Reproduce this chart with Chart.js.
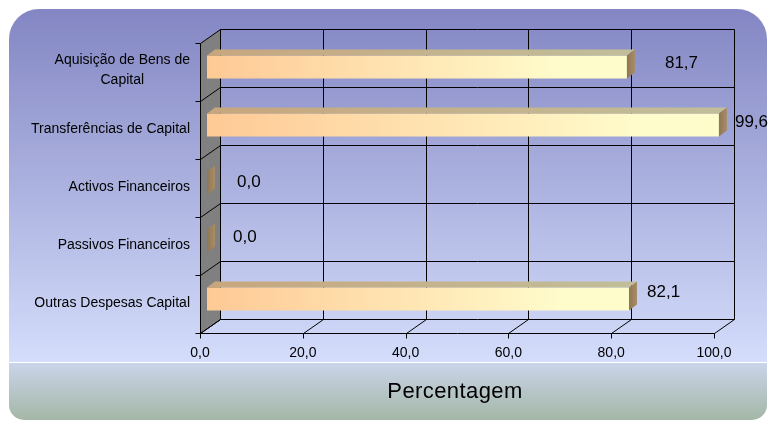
<!DOCTYPE html>
<html>
<head>
<meta charset="utf-8">
<script src="https://cdn.jsdelivr.net/npm/chart.js@4"></script>
<style>
  html, body { margin: 0; padding: 0; background: #ffffff; overflow: hidden; }
  canvas { display: block; }
</style>
</head>
<body>
<canvas id="c" width="768" height="421"></canvas>
<script>
// Execution of capital expenditure, by heading (%)
const categories = [['Aquisição de Bens de', 'Capital'], 'Transferências de Capital', 'Activos Financeiros', 'Passivos Financeiros', 'Outras Despesas Capital'];
const percentValues = [81.7, 99.6, 0.0, 0.0, 82.1];
const tickValues = [0, 20, 40, 60, 80, 100];
const axisTitle = 'Percentagem';

const FONT = '"Liberation Sans", Arial, sans-serif';
const fmt = v => v.toFixed(1).replace('.', ',');

// pseudo-3D geometry: the chart area is the plane of the bars' front faces
const FRONT = { dx: -7, dy: 5 };   // front edge of the box
const BACK = { dx: 13, dy: -9 };   // back wall
const DEPTH = { dx: 8, dy: -6 };   // bar thickness in depth

function rowBounds(chart) {
  const ys = chart.scales.y, ca = chart.chartArea, n = categories.length;
  const b = [ca.top];
  for (let i = 1; i < n; i++) b.push((ys.getPixelForValue(i - 1) + ys.getPixelForValue(i)) / 2);
  b.push(ca.bottom);
  return b;
}

const panelPlugin = {
  id: 'panel',
  beforeDraw(chart) {
    const ctx = chart.ctx;
    ctx.save();
    ctx.beginPath();
    ctx.roundRect(9, 9, 758, 411, [30, 30, 15, 15]);
    ctx.clip();
    let g = ctx.createLinearGradient(0, 9, 0, 362);
    g.addColorStop(0, '#8386c3');
    g.addColorStop(1, '#d4ddfb');
    ctx.fillStyle = g;
    ctx.fillRect(9, 9, 758, 353);
    g = ctx.createLinearGradient(0, 363, 0, 420);
    g.addColorStop(0, '#cad4ea');
    g.addColorStop(1, '#a4b7a6');
    ctx.fillStyle = g;
    ctx.fillRect(9, 363, 758, 58);
    ctx.fillStyle = '#ffffff';
    ctx.fillRect(9, 362, 758, 1);
    ctx.restore();
  }
};

const boxPlugin = {
  id: 'box3d',
  beforeDatasetsDraw(chart) {
    const ctx = chart.ctx, xs = chart.scales.x, ys = chart.scales.y, ca = chart.chartArea;
    const fx = v => Math.round(xs.getPixelForValue(v) + FRONT.dx) + 0.5;
    const bx = v => Math.round(xs.getPixelForValue(v) + BACK.dx) + 0.5;
    const fy = y => Math.round(y + FRONT.dy) + 0.5;
    const by = y => Math.round(y + BACK.dy) + 0.5;
    const bounds = rowBounds(chart);
    const x0 = tickValues[0], x1 = tickValues[tickValues.length - 1];
    ctx.save();
    // side wall
    ctx.fillStyle = '#808080';
    ctx.beginPath();
    ctx.moveTo(fx(x0), fy(ca.top));
    ctx.lineTo(bx(x0), by(ca.top));
    ctx.lineTo(bx(x0), by(ca.bottom));
    ctx.lineTo(fx(x0), fy(ca.bottom));
    ctx.closePath();
    ctx.fill();

    ctx.strokeStyle = '#000000';
    ctx.lineWidth = 1;
    ctx.beginPath();
    bounds.forEach(b => {
      // back wall horizontals
      ctx.moveTo(bx(x0), by(b)); ctx.lineTo(bx(x1), by(b));
      // side wall diagonals
      ctx.moveTo(fx(x0), fy(b)); ctx.lineTo(bx(x0), by(b));
      // left tick marks
      ctx.moveTo(fx(x0) - 5, fy(b)); ctx.lineTo(fx(x0), fy(b));
    });
    tickValues.forEach(v => {
      // back wall verticals
      ctx.moveTo(bx(v), by(ca.top)); ctx.lineTo(bx(v), by(ca.bottom));
      // floor diagonals
      ctx.moveTo(fx(v), fy(ca.bottom)); ctx.lineTo(bx(v), by(ca.bottom));
      // bottom tick marks
      ctx.moveTo(fx(v), fy(ca.bottom)); ctx.lineTo(fx(v), fy(ca.bottom) + 5);
    });
    // front edges
    ctx.moveTo(fx(x0), fy(ca.top)); ctx.lineTo(fx(x0), fy(ca.bottom));
    ctx.moveTo(fx(x0), fy(ca.bottom)); ctx.lineTo(fx(x1), fy(ca.bottom));
    ctx.stroke();

    // tick labels
    ctx.fillStyle = '#000000';
    ctx.font = '14px ' + FONT;
    ctx.textAlign = 'center';
    ctx.textBaseline = 'alphabetic';
    tickValues.forEach(v => ctx.fillText(fmt(v), xs.getPixelForValue(v) + FRONT.dx, ca.bottom + FRONT.dy + 24));

    // category labels, centred within a right-aligned block
    ctx.font = '14px ' + FONT;
    const right = xs.getPixelForValue(x0) + FRONT.dx - 10;
    categories.forEach((c, i) => {
      const lines = Array.isArray(c) ? c : [c];
      const w = Math.max(...lines.map(l => ctx.measureText(l).width));
      const cy = ys.getPixelForValue(i) + FRONT.dy;
      const lh = 20;
      lines.forEach((l, k) => {
        ctx.fillText(l, right - w / 2, cy + 3 + (k - (lines.length - 1) / 2) * lh - (lines.length - 1));
      });
    });

    // axis title
    ctx.font = '22px ' + FONT;
    ctx.letterSpacing = '0.4px';
    ctx.fillText(axisTitle, (xs.getPixelForValue(x0) + xs.getPixelForValue(x1)) / 2 + FRONT.dx - 2, 398);
    ctx.letterSpacing = '0px';
    ctx.restore();
  },
  afterDatasetsDraw(chart) {
    const ctx = chart.ctx;
    const meta = chart.getDatasetMeta(0);
    const nudges = chart.options.plugins.box3d.labelNudge;
    ctx.save();
    meta.data.forEach((el, i) => {
      const { x, y, base, height } = el.getProps(['x', 'y', 'base', 'height'], true);
      const yt = y - height / 2, yb = y + height / 2;
      // top face
      if (x - base > 0.5) {
        const g = ctx.createLinearGradient(base, 0, x, 0);
        g.addColorStop(0, '#c7a67d');
        g.addColorStop(1, '#c1be99');
        ctx.fillStyle = g;
        ctx.beginPath();
        ctx.moveTo(base, yt);
        ctx.lineTo(x, yt);
        ctx.lineTo(x + DEPTH.dx, yt + DEPTH.dy);
        ctx.lineTo(base + DEPTH.dx, yt + DEPTH.dy);
        ctx.closePath();
        ctx.fill();
      }
      // end face
      const gs = ctx.createLinearGradient(x, 0, x + DEPTH.dx, 0);
      gs.addColorStop(0, '#8f7654');
      gs.addColorStop(1, '#a88d66');
      ctx.fillStyle = gs;
      ctx.beginPath();
      ctx.moveTo(x, yt);
      ctx.lineTo(x + DEPTH.dx, yt + DEPTH.dy);
      ctx.lineTo(x + DEPTH.dx, yb + DEPTH.dy);
      ctx.lineTo(x, yb);
      ctx.closePath();
      ctx.fill();

      // value label
      ctx.fillStyle = '#000000';
      ctx.font = '17px ' + FONT;
      ctx.textAlign = 'left';
      ctx.textBaseline = 'alphabetic';
      const n = nudges[i] || [18, 0];
      ctx.fillText(fmt(percentValues[i]), x + n[0], y + n[1]);
    });
    ctx.restore();
  }
};

new Chart(document.getElementById('c'), {
  type: 'bar',
  data: {
    labels: categories,
    datasets: [{
      data: percentValues,
      borderWidth: 0,
      barPercentage: 0.4,
      categoryPercentage: 1,
      backgroundColor(context) {
        const chart = context.chart;
        const xs = chart.scales.x;
        if (!xs || !chart.chartArea || context.dataIndex === undefined) return '#fecb97';
        const x0 = xs.getPixelForValue(0);
        const x1 = xs.getPixelForValue(context.raw);
        if (!isFinite(x0) || !isFinite(x1) || x1 - x0 < 1) return '#fecb97';
        const g = chart.ctx.createLinearGradient(x0, 0, x1, 0);
        g.addColorStop(0, '#fec995');
        g.addColorStop(0.85, '#fffccb');
        g.addColorStop(1, '#fffccb');
        return g;
      }
    }]
  },
  options: {
    responsive: false,
    devicePixelRatio: 1,
    animation: false,
    indexAxis: 'y',
    layout: { padding: { left: 207, right: 47, top: 38, bottom: 93 } },
    scales: {
      x: { type: 'linear', min: 0, max: 100, display: false },
      y: { type: 'category', display: false }
    },
    plugins: {
      legend: { display: false },
      tooltip: { enabled: false },
      box3d: { labelNudge: [[38, 1], [16, 2], [30, 4], [26, 1], [18, -2]] }
    }
  },
  plugins: [panelPlugin, boxPlugin]
});
</script>
</body>
</html>
